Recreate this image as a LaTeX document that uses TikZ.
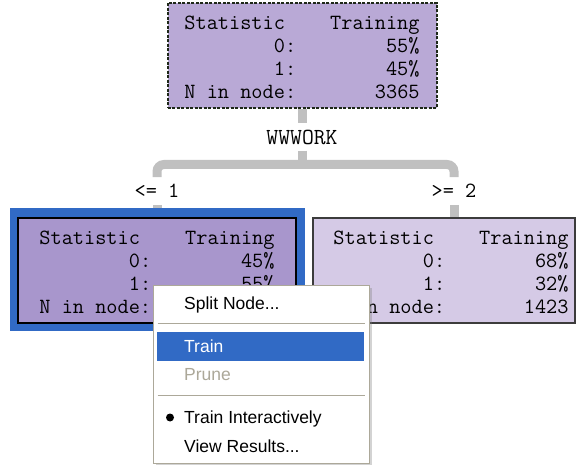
\documentclass[tikz,border=0pt]{standalone}
\usepackage{fontspec}
\newfontfamily\menufont{Liberation Sans}
\usetikzlibrary{shadows}

\definecolor{rootfill}{RGB}{185,169,214}
\definecolor{selfill}{RGB}{168,150,204}
\definecolor{leaffill}{RGB}{213,202,230}
\definecolor{xpblue}{RGB}{49,106,197}
\definecolor{branchgray}{RGB}{192,192,192}
\definecolor{menuline}{RGB}{172,168,153}

\newcommand{\stattab}[3]{%
  \raisebox{-4pt}[\height][\depth]{\begin{tabular}{@{}l@{\hspace{34pt}}r@{}}
    Statistic & Training\\
    \hfill 0: & #1\\
    \hfill 1: & #2\\
    N in node: & #3
  \end{tabular}}}

\begin{document}
\begin{tikzpicture}[x=1pt,y=-1pt,
  font=\ttfamily\fontsize{21.7}{22.7}\selectfont,
  treenode/.style={rectangle,minimum height=105pt,inner sep=0pt,line width=1.5pt},
  branch/.style={draw=branchgray,line width=9pt},
  cutlabel/.style={inner sep=7pt},
  menubox/.style={draw=menuline,fill=white,line width=1pt,minimum width=216pt,
    minimum height=177pt,inner sep=0pt,
    drop shadow={shadow xshift=2.5pt,shadow yshift=-2.5pt,opacity=.35}},
  menuitem/.style={anchor=base west,inner sep=0pt,font=\menufont\fontsize{17.5}{20}\selectfont}]

  \useasboundingbox (0,0) rectangle (579,465);

  % root of the tree
  \node[treenode,fill=rootfill,draw={rgb,255:red,30;green,40;blue,25},line width=2pt,
    dash pattern=on 3pt off 1.5pt,minimum width=269pt] (root) at (302,55.5)
    {\stattab{55\%}{45\%}{3365}};

  \node[cutlabel,inner sep=6pt,font=\ttfamily\fontsize{23}{25}\selectfont]
    (split) at (root.south |- 0,137) {WWWORK};
  \node[cutlabel] (le) at (157,191) {<= 1};
  \node[cutlabel] (ge) at (454,191) {>= 2};

  \coordinate (bar)  at (split.south |- 0,164.5);
  \coordinate (barL) at (le.north |- bar);
  \coordinate (barR) at (ge.north |- bar);

  \begin{scope}[branch]
    \draw (root.south) -- (root.south |- split.north);
    \draw (split.south) -- (bar);
    \draw[rounded corners=7pt] (le.north) -- (barL) -- (barR) -- (ge.north);
  \end{scope}

  % children
  \node[fill=xpblue,minimum width=295pt,minimum height=123pt,inner sep=0pt]
    (sel) at (157.5,269.5) {};
  \draw[branch] (le.south) -- (le.south |- sel.north);

  \node[treenode,fill=selfill,draw=black,minimum width=278pt] (left) at (157,270.5)
    {\stattab{45\%}{55\%}{}};

  \node[treenode,fill=leaffill,draw={rgb,255:red,60;green,60;blue,60},
    minimum width=262pt] (right) at (444,270.5)
    {\hspace*{14pt}\stattab{68\%}{32\%}{1423}};
  \draw[branch] (ge.south) -- (ge.south |- right.north);

  % context menu
  \node[menubox] (menu) at (261,374.5) {};
  \node[fill=xpblue,minimum width=207pt,minimum height=29pt,inner sep=0pt]
    (hl) at (260.5,347) {};

  \draw[menuline] ([xshift=5pt]menu.west |- 0,323) -- ([xshift=-5pt]menu.east |- 0,323);
  \draw[menuline] ([xshift=5pt]menu.west |- 0,395) -- ([xshift=-5pt]menu.east |- 0,395);

  \node[menuitem] (splitnode) at (184,310) {Split Node...};
  \node[menuitem,text=white] (train) at (184,353) {Train};
  \node[menuitem,text=menuline] (prune) at (184,380.5) {Prune};
  \node[menuitem] (trainint) at (184,423) {Train Interactively};
  \node[menuitem] (viewres) at (184,452) {View Results...};
  \fill (trainint.base west) ++(-14,-5.5) circle (4pt);
\end{tikzpicture}
\end{document}
